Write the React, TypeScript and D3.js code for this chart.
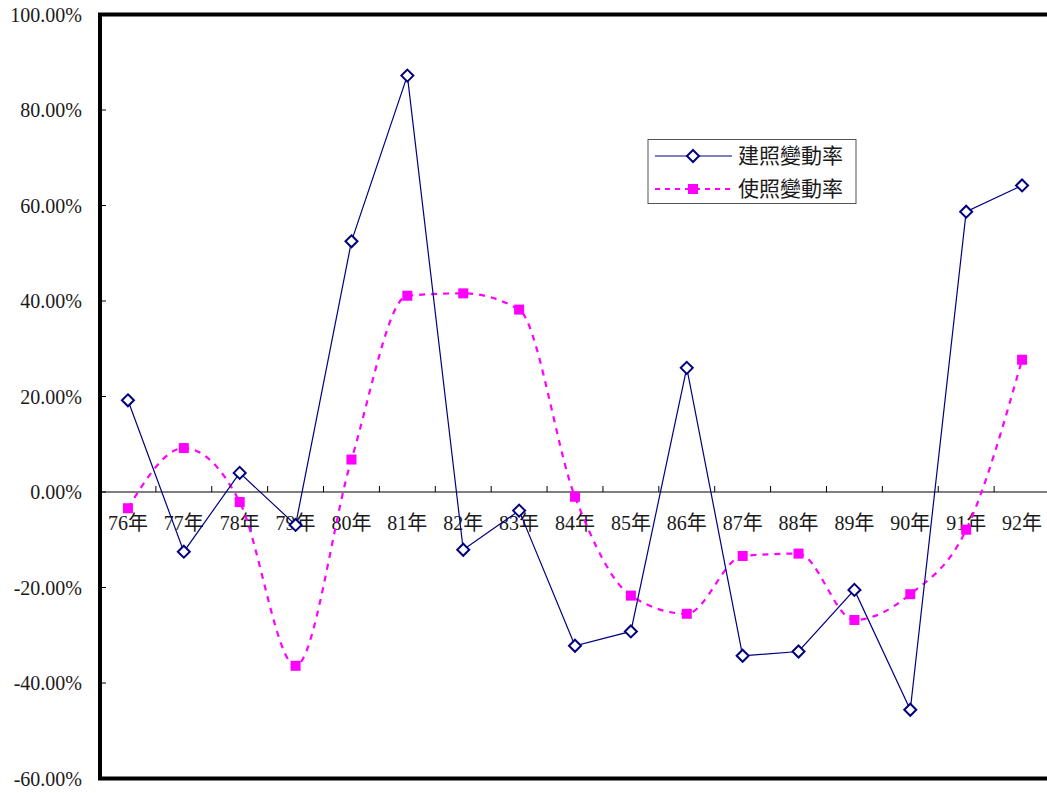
import React from "react";
import * as d3 from "d3";

// 建照 / 使照 yearly change rates (%)
const years = ["76年", "77年", "78年", "79年", "80年", "81年", "82年", "83年", "84年", "85年", "86年", "87年", "88年", "89年", "90年", "91年", "92年"];
const buildPermitRate = [19.2, -12.5, 4.0, -6.9, 52.5, 87.2, -12.1, -3.9, -32.2, -29.2, 26.0, -34.3, -33.4, -20.5, -45.6, 58.7, 64.2];
const usePermitRate = [-3.4, 9.2, -2.1, -36.4, 6.8, 41.1, 41.6, 38.2, -1.0, -21.7, -25.5, -13.4, -12.9, -26.8, -21.4, -7.9, 27.7];
const yTicks = [100, 80, 60, 40, 20, 0, -20, -40, -60];
const seriesNames = ["建照變動率", "使照變動率"];

const W = 1047;
const H = 793;
const left = 100;
const right = 1050;
const top = 14.5;
const bottom = 778.5;

const NAVY = "#000080";
const MAGENTA = "#FF00FF";
const LATIN = '"Liberation Serif", "Times New Roman", "DejaVu Serif", serif';
const CJK = '"Noto Sans CJK TC", "Noto Sans CJK SC", sans-serif';

export default function App() {
  const x = d3.scaleBand<string>().domain(years).range([left, right]);
  const y = d3.scaleLinear().domain([-60, 100]).range([bottom, top]);
  const cx = (i: number) => (x(years[i]) as number) + x.bandwidth() / 2;

  const straight = d3
    .line<number>()
    .x((_, i) => cx(i))
    .y((d) => y(d));
  const smooth = d3
    .line<number>()
    .x((_, i) => cx(i))
    .y((d) => y(d))
    .curve(d3.curveMonotoneX);

  const y0 = y(0);
  const boundaries = d3.range(years.length + 1).map((i) => left + i * x.bandwidth());

  const diamond = (px: number, py: number, r: number) =>
    `M${px},${py - r}L${px + r},${py}L${px},${py + r}L${px - r},${py}Z`;

  const lgX = 648;
  const lgY = 139.5;

  return (
    <svg
      width={W}
      height={H}
      style={{ position: "absolute", left: 0, top: 0, background: "#fff" }}
    >
      <rect x={0} y={0} width={W} height={H} fill="#fff" />

      {/* y tick labels and inner tick marks */}
      {yTicks.map((t) => (
        <g key={t}>
          <text x={82} y={y(t) + 7} fontSize={20} textAnchor="end" fill="#1a1a1a" style={{ fontFamily: LATIN }}>
            {t.toFixed(2) + "%"}
          </text>
          <line x1={left} x2={left + 6} y1={y(t)} y2={y(t)} stroke="#000" strokeWidth={1} />
        </g>
      ))}

      {/* zero line with category ticks */}
      <line x1={left} x2={right} y1={y0} y2={y0} stroke="#000" strokeWidth={1.2} />
      {boundaries.map((bx, i) => (
        <line key={i} x1={bx} x2={bx} y1={y0} y2={y0 - 6} stroke="#000" strokeWidth={1} />
      ))}

      {/* category labels: year digits in serif, 年 in CJK */}
      {years.map((yr, i) => (
        <text key={yr} x={cx(i)} y={y0 + 38} fontSize={20} textAnchor="middle" fill="#1a1a1a" style={{ fontFamily: LATIN }}>
          <tspan>{yr.slice(0, -1)}</tspan>
          <tspan style={{ fontFamily: CJK }}>{yr.slice(-1)}</tspan>
        </text>
      ))}

      {/* 使照變動率: smoothed dashed line with square markers */}
      <path
        d={smooth(usePermitRate) || ""}
        fill="none"
        stroke={MAGENTA}
        strokeWidth={2.2}
        strokeDasharray="6,6"
      />
      {usePermitRate.map((v, i) => (
        <rect key={i} x={cx(i) - 5} y={y(v) - 5} width={10} height={10} fill={MAGENTA} />
      ))}

      {/* 建照變動率: straight line with hollow diamonds */}
      <path d={straight(buildPermitRate) || ""} fill="none" stroke={NAVY} strokeWidth={1.2} />
      {buildPermitRate.map((v, i) => (
        <path key={i} d={diamond(cx(i), y(v), 6)} fill="#fff" stroke={NAVY} strokeWidth={2} />
      ))}

      {/* plot frame */}
      <rect
        x={left}
        y={top}
        width={right - left}
        height={bottom - top}
        fill="none"
        stroke="#000"
        strokeWidth={4}
      />

      {/* legend */}
      <g>
        <rect x={lgX} y={lgY} width={208} height={64} fill="#fff" stroke="#555" strokeWidth={1} />
        <line x1={655} x2={732} y1={156} y2={156} stroke={NAVY} strokeWidth={1.2} />
        <path d={diamond(693, 156, 6)} fill="#fff" stroke={NAVY} strokeWidth={2} />
        <text x={738} y={163} fontSize={21} fill="#1a1a1a" style={{ fontFamily: CJK }}>
          {seriesNames[0]}
        </text>
        <line x1={655} x2={732} y1={189} y2={189} stroke={MAGENTA} strokeWidth={2} strokeDasharray="5,5" />
        <rect x={688} y={184} width={10} height={10} fill={MAGENTA} />
        <text x={738} y={196} fontSize={21} fill="#1a1a1a" style={{ fontFamily: CJK }}>
          {seriesNames[1]}
        </text>
      </g>
    </svg>
  );
}
